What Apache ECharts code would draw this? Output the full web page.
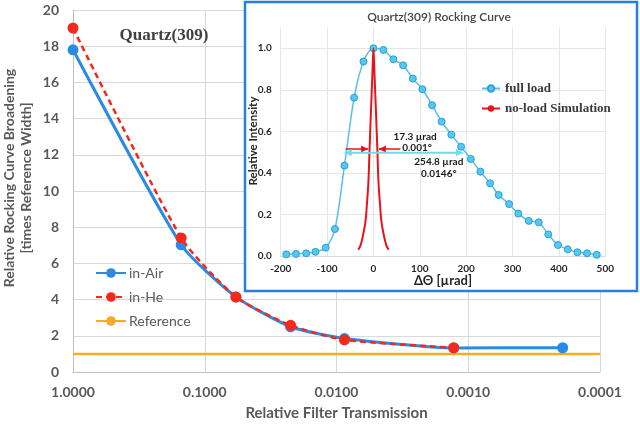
<!DOCTYPE html>
<html><head><meta charset="utf-8">
<script src="https://cdn.jsdelivr.net/npm/echarts@6/dist/echarts.min.js"></script>
<style>html,body{margin:0;padding:0;background:#fff}#c{width:640px;height:426px}</style>
</head><body><div id="c"></div>
<script>
// Main chart data
var transmission = [1.0, 0.151, 0.058, 0.0223, 0.0087, 0.00129, 0.000192];
var inAir = [17.8, 7.03, 4.15, 2.5, 1.85, 1.33, 1.34];
var inHe = [19.0, 7.41, 4.14, 2.58, 1.78, 1.34];
var refX = [1.0, 0.0001];
var refY = [1, 1];
var mainXTicks = ['1.0000', '0.1000', '0.0100', '0.0010', '0.0001'];

// Inset data
var fullX = [-188,-167,-145,-125,-103,-83,-62.5,-41.6,-21.5,0,21.5,43,64,85,105.6,126.5,147,168,189,210,230.6,251.5,270,292.5,312.5,335,356.5,377,398,419,440,460.5,481.5];
var fullY = [0.008,0.01,0.013,0.02,0.04,0.13,0.435,0.762,0.936,1.0,0.992,0.947,0.918,0.854,0.803,0.726,0.647,0.584,0.526,0.467,0.406,0.35,0.294,0.25,0.204,0.169,0.162,0.104,0.053,0.032,0.018,0.013,0.006];
var noloadX = [-33,-28,-21.5,-17,-14.4,-11,-8.6,-5,-2.2,0,2.2,5,8.6,11,14.4,17,21.5,28,33];
var noloadY = [0.03,0.05,0.11,0.17,0.24,0.35,0.5,0.72,0.88,1.0,0.88,0.72,0.5,0.35,0.24,0.17,0.11,0.05,0.03];
var fwhmNoLoad = [-8.65, 8.65];
var fwhmFull = [-62, 192.8];

function pairs(xs, ys){ return ys.map(function(y,i){return [xs[i], y];}); }

var chart = echarts.init(document.getElementById('c'));
var F = 'Lato, "Open Sans", sans-serif';
var gray = '#595959';
var grid2 = '#e6e6e6';

var option = {
  animation: false,
  textStyle: {fontFamily: F},
  grid: [
    {left: 73, right: 40, top: 10, bottom: 49},
    {left: 280.7, right: 34.7, top: 27.5, bottom: 170}
  ],
  xAxis: [
    {gridIndex: 0, type: 'log', logBase: 10, min: 0.0001, max: 1, inverse: true,
     axisLine: {show: true, lineStyle: {color: '#bfbfbf', width: 1}},
     axisTick: {show: false},
     splitLine: {show: true, lineStyle: {color: '#d9d9d9'}},
     axisLabel: {color: gray, fontWeight: 'bold', fontSize: 14, margin: 13,
       formatter: function(v){ var i = Math.round(-Math.log10(v)); return mainXTicks[i]; }},
     name: 'Relative Filter Transmission', nameLocation: 'middle', nameGap: 34,
     nameTextStyle: {color: gray, fontWeight: 'bold', fontSize: 15}
    },
    {gridIndex: 1, type: 'value', min: -200, max: 500, interval: 100, z: 6,
     axisLine: {show: true, lineStyle: {color: '#d9d9d9'}},
     axisTick: {show: false},
     splitLine: {show: true, lineStyle: {color: grid2}},
     axisLabel: {color: '#262626', fontWeight: 'bold', fontSize: 10, margin: 8}
    }
  ],
  yAxis: [
    {gridIndex: 0, type: 'value', min: 0, max: 20, interval: 2,
     axisLine: {show: true, lineStyle: {color: '#bfbfbf'}},
     axisTick: {show: false},
     splitLine: {show: true, lineStyle: {color: '#d9d9d9'}},
     axisLabel: {color: gray, fontWeight: 'bold', fontSize: 14, margin: 14}
    },
    {gridIndex: 1, type: 'value', min: 0, max: 1.1, interval: 0.2, z: 6,
     axisLine: {show: false}, axisTick: {show: false},
     splitLine: {show: true, lineStyle: {color: [grid2,grid2,grid2,grid2,grid2,grid2,'rgba(0,0,0,0)']}},
     axisLabel: {color: '#262626', fontWeight: 'bold', fontSize: 10, margin: 9, showMaxLabel: false,
       formatter: function(v){ return v.toFixed(1); }}
    }
  ],
  legend: [
    {orient: 'vertical', left: 90, top: 261, itemGap: 10, itemWidth: 30, itemHeight: 12,
     data: ['in-Air', 'in-He', 'Reference'],
     textStyle: {color: gray, fontSize: 14, fontFamily: F, padding: [0,0,0,-2]}},
    {orient: 'vertical', left: 476, top: 77, itemGap: 7, itemWidth: 18, itemHeight: 8, z: 8,
     data: ['full load', 'no-load Simulation'],
     textStyle: {color: '#3a3a3a', fontSize: 13, fontWeight: 'bold', fontFamily: '"Liberation Serif", serif'}}
  ],
  series: [
    {name: 'Reference', type: 'line', xAxisIndex: 0, yAxisIndex: 0, data: pairs(refX, refY),
     symbol: 'none', lineStyle: {color: '#f5ac1f', width: 2.5}, itemStyle: {color: '#f5ac1f'}, z: 2},
    {name: 'in-Air', type: 'line', xAxisIndex: 0, yAxisIndex: 0, data: pairs(transmission, inAir),
     smooth: 0.2, symbol: 'circle', symbolSize: 11,
     lineStyle: {color: '#2a8be6', width: 3}, itemStyle: {color: '#2a8be6'}, z: 3},
    {name: 'in-He', type: 'line', xAxisIndex: 0, yAxisIndex: 0, data: pairs(transmission, inHe),
     smooth: 0.2, symbol: 'circle', symbolSize: 11,
     lineStyle: {color: '#f5291b', width: 2.5, type: [6,4]}, itemStyle: {color: '#f5291b'}, z: 4},
    {name: 'full load', type: 'line', xAxisIndex: 1, yAxisIndex: 1, data: pairs(fullX, fullY),
     smooth: 0.3, symbol: 'circle', symbolSize: 7,
     lineStyle: {color: '#5bbfea', width: 1.5},
     itemStyle: {color: '#55c8f2', borderColor: '#2c9fd8', borderWidth: 1}, z: 7},
    {name: 'no-load Simulation', type: 'line', xAxisIndex: 1, yAxisIndex: 1, data: pairs(noloadX, noloadY),
     smooth: 0.4, symbol: 'none', lineStyle: {color: '#e8141c', width: 2}, itemStyle: {color: '#e8141c'}, z: 8}
  ]
};
chart.setOption(option);

function px(p){ return chart.convertToPixel({gridIndex: 1}, p); }
var a1 = px([90, 0.574]), a2 = px([94, 0.52]), b1 = px([141, 0.453]), b2 = px([141, 0.394]);
var annStyle = {fill: '#1a1a1a', font: 'bold 10px ' + F, textAlign: 'center', textVerticalAlign: 'middle'};
function ann(p, t){ return {type: 'text', x: p[0], y: p[1], z: 9, style: Object.assign({text: t}, annStyle)}; }

function head(tip, dir, color){
  var L = 7, H = 3.5;
  return {type: 'polygon', z: 9, shape: {points: [[tip[0], tip[1]], [tip[0] - dir*L, tip[1] - H], [tip[0] - dir*L, tip[1] + H]]},
          style: {fill: color}};
}
function arrow(d0, d1, color, w, both){
  var p0 = px(d0), p1 = px(d1);
  var dir = p1[0] > p0[0] ? 1 : -1;
  var els = [{type: 'line', z: 9, shape: {x1: p0[0], y1: p0[1], x2: p1[0], y2: p1[1]}, style: {stroke: color, lineWidth: w}},
             head(p1, dir, color)];
  if (both) els.push(head(p0, -dir, color));
  return els;
}
var red = '#e8141c', cyan = '#6fdde8';
var arrows = [].concat(
  arrow([-60, 0.515], [fwhmNoLoad[0] - 3, 0.515], red, 1.5, false),
  arrow([58, 0.515], [fwhmNoLoad[1] + 3, 0.515], red, 1.5, false),
  arrow([fwhmFull[0], 0.497], [fwhmFull[1], 0.497], cyan, 2, true)
);

chart.setOption({
  graphic: [
    {type: 'rect', z: 5, shape: {x: 245, y: 2, width: 392, height: 289},
     style: {fill: '#fff', stroke: '#2a7fdc', lineWidth: 2.5}},
    {type: 'text', z: 9, x: 439, y: 17,
     style: {text: 'Quartz(309) Rocking Curve', fill: '#454545', font: '600 12px ' + F, textAlign: 'center', textVerticalAlign: 'middle'}},
    {type: 'text', z: 9, x: 443, y: 281,
     style: {text: 'ΔΘ [µrad]', fill: '#262626', font: 'bold 13px ' + F, textAlign: 'center', textVerticalAlign: 'middle'}},
    {type: 'text', z: 9, x: 253, y: 141, rotation: Math.PI / 2,
     style: {text: 'Relative Intensity', fill: '#262626', font: 'bold 11.5px ' + F, textAlign: 'center', textVerticalAlign: 'middle'}},
    {type: 'text', z: 3, x: 164, y: 36,
     style: {text: 'Quartz(309)', fill: '#404040', font: 'bold 17px "Liberation Serif", serif', textAlign: 'center', textVerticalAlign: 'middle'}},
    {type: 'text', z: 3, x: 18, y: 178, rotation: Math.PI / 2,
     style: {text: 'Relative Rocking Curve Broadening\n[times Reference Width]', fill: gray, font: 'bold 14px ' + F,
       textAlign: 'center', textVerticalAlign: 'middle', lineHeight: 17}},
    ann(a1, '17.3 µrad'), ann(a2, '0.001°'), ann(b1, '254.8 µrad'), ann(b2, '0.0146°')
  ].concat(arrows)
});
</script></body></html>
